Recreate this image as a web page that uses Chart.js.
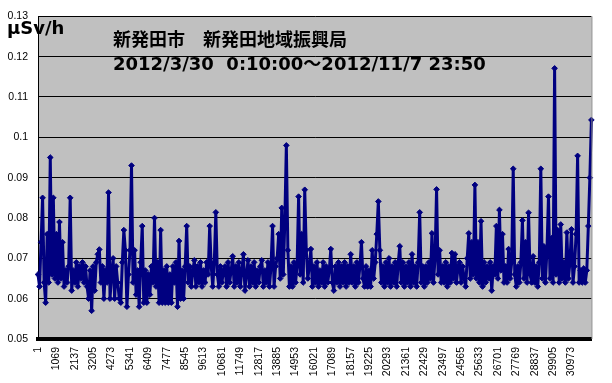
<!DOCTYPE html>
<html>
<head>
<meta charset="utf-8">
<script src="https://cdn.jsdelivr.net/npm/chart.js@4.4.1/dist/chart.umd.min.js"></script>
<style>
  html, body { margin: 0; padding: 0; background: #fff; }
  #wrap { width: 612px; height: 383px; }
</style>
</head>
<body>
<div id="wrap"><canvas id="grafico" width="612" height="383"></canvas></div>
<script>
// 測定番号の目盛り (1068 件ごと)
const tickLabels = ["1", "1069", "2137", "3205", "4273", "5341", "6409", "7477", "8545", "9613",
  "10681", "11749", "12817", "13885", "14953", "16021", "17089", "18157", "19225", "20293",
  "21361", "22429", "23497", "24565", "25633", "26701", "27769", "28837", "29905", "30973"];

// 空間線量率 (μSv/h), 89 件ごとに読み取り
const doseRate = [
  0.066, 0.063, 0.074, 0.085, 0.064, 0.059, 0.076, 0.064, 0.095, 0.066, 0.085, 0.065,
  0.076, 0.064, 0.079, 0.065, 0.074, 0.063, 0.067, 0.064, 0.068, 0.085, 0.062, 0.067,
  0.064, 0.069, 0.063, 0.068, 0.065, 0.069, 0.064, 0.068, 0.063, 0.060, 0.067, 0.057,
  0.068, 0.062, 0.069, 0.071, 0.0722, 0.064, 0.068, 0.060, 0.067, 0.064, 0.0863, 0.060,
  0.066, 0.070, 0.060, 0.068, 0.064, 0.060, 0.059, 0.069, 0.077, 0.072, 0.058, 0.066,
  0.072, 0.093, 0.064, 0.072, 0.061, 0.067, 0.058, 0.069, 0.078, 0.059, 0.067, 0.059,
  0.066, 0.061, 0.068, 0.064, 0.080, 0.063, 0.069, 0.059, 0.077, 0.059, 0.067, 0.059,
  0.068, 0.059, 0.066, 0.059, 0.068, 0.064, 0.069, 0.058, 0.0743, 0.060, 0.067, 0.060,
  0.068, 0.078, 0.064, 0.068, 0.063, 0.067, 0.0695, 0.063, 0.068, 0.064, 0.069, 0.063,
  0.067, 0.064, 0.069, 0.066, 0.078, 0.068, 0.063, 0.069, 0.0814, 0.066, 0.063, 0.068,
  0.064, 0.067, 0.068, 0.063, 0.069, 0.064, 0.067, 0.0705, 0.063, 0.068, 0.064, 0.069,
  0.063, 0.067, 0.071, 0.062, 0.066, 0.0695, 0.063, 0.068, 0.064, 0.069, 0.063, 0.067,
  0.064, 0.068, 0.0695, 0.063, 0.067, 0.064, 0.069, 0.063, 0.068, 0.078, 0.063, 0.068,
  0.070, 0.076, 0.065, 0.0825, 0.066, 0.079, 0.098, 0.072, 0.063, 0.068, 0.063, 0.069,
  0.064, 0.068, 0.0853, 0.066, 0.076, 0.064, 0.087, 0.072, 0.065, 0.068, 0.0723, 0.063,
  0.068, 0.064, 0.069, 0.063, 0.067, 0.064, 0.069, 0.063, 0.068, 0.064, 0.067, 0.0723,
  0.064, 0.062, 0.068, 0.064, 0.069, 0.063, 0.068, 0.064, 0.069, 0.063, 0.068, 0.064,
  0.071, 0.064, 0.068, 0.063, 0.069, 0.064, 0.068, 0.074, 0.065, 0.063, 0.068, 0.063,
  0.067, 0.063, 0.072, 0.065, 0.069, 0.076, 0.0841, 0.072, 0.064, 0.068, 0.063, 0.069,
  0.064, 0.070, 0.063, 0.068, 0.064, 0.069, 0.063, 0.069, 0.073, 0.064, 0.069, 0.063,
  0.068, 0.064, 0.069, 0.063, 0.071, 0.064, 0.068, 0.063, 0.069, 0.0814, 0.064, 0.068,
  0.063, 0.068, 0.064, 0.069, 0.065, 0.0762, 0.064, 0.070, 0.0871, 0.066, 0.072, 0.064,
  0.068, 0.064, 0.069, 0.063, 0.068, 0.064, 0.0713, 0.065, 0.071, 0.064, 0.068, 0.069,
  0.064, 0.068, 0.065, 0.063, 0.070, 0.0762, 0.065, 0.074, 0.066, 0.0882, 0.065, 0.074,
  0.064, 0.0792, 0.063, 0.069, 0.064, 0.068, 0.065, 0.069, 0.062, 0.068, 0.066, 0.078,
  0.065, 0.082, 0.067, 0.076, 0.064, 0.068, 0.064, 0.0723, 0.065, 0.069, 0.0922, 0.066,
  0.063, 0.068, 0.064, 0.069, 0.0794, 0.065, 0.074, 0.064, 0.0813, 0.066, 0.064, 0.0705,
  0.064, 0.068, 0.063, 0.069, 0.0922, 0.065, 0.073, 0.064, 0.072, 0.0853, 0.065, 0.075,
  0.064, 0.1171, 0.066, 0.077, 0.064, 0.0784, 0.065, 0.069, 0.064, 0.0764, 0.065, 0.069,
  0.0772, 0.064, 0.068, 0.076, 0.0954, 0.064, 0.067, 0.064, 0.0675, 0.064, 0.067, 0.078,
  0.090, 0.1043
];

const titulo1 = "新発田市　新発田地域振興局";
const titulo2 = "2012/3/30  0:10:00～2012/11/7 23:50";
const unidade = "μSv/h";

// 測定番号 (読み取り間隔 89 件)
const passo = 89;
const numeros = doseRate.map((_, i) => String(1 + i * passo));

const fundoPlot = {
  id: "fundoPlot",
  beforeDraw(chart) {
    const { ctx, chartArea: a } = chart;
    ctx.save();
    ctx.fillStyle = "#c0c0c0";
    ctx.fillRect(a.left, a.top, a.right - a.left, a.bottom - a.top);
    ctx.restore();
  },
  afterDraw(chart) {
    const { ctx, chartArea: a } = chart;
    ctx.save();
    ctx.strokeStyle = "#808080";
    ctx.lineWidth = 1;
    ctx.beginPath();
    ctx.moveTo(a.right + 0.5, a.top);
    ctx.lineTo(a.right + 0.5, a.bottom);
    ctx.stroke();

    ctx.fillStyle = "#000";
    ctx.textBaseline = "alphabetic";
    ctx.font = 'bold 18px "Noto Sans CJK JP"';
    ctx.fillText(titulo1, 113, 46);
    ctx.font = 'bold 18px "DejaVu Sans", "Noto Sans CJK JP"';
    ctx.fillText(titulo2, 113, 70);
    ctx.font = 'bold 18px "DejaVu Sans"';
    ctx.fillText(unidade, 7, 34);
    ctx.restore();
  }
};

const ctx = document.getElementById("grafico").getContext("2d");

new Chart(ctx, {
  type: "line",
  data: {
    labels: numeros,
    datasets: [{
      data: doseRate,
      borderColor: "#000080",
      backgroundColor: "#000080",
      borderWidth: 3,
      borderJoinStyle: "round",
      pointStyle: "rectRot",
      pointRadius: 2.8,
      pointBorderWidth: 1,
      pointBackgroundColor: "#000080",
      pointBorderColor: "#000080",
      tension: 0
    }]
  },
  options: {
    responsive: false,
    animation: false,
    layout: { padding: { top: 12, right: 5, left: 0, bottom: 0 } },
    plugins: {
      legend: { display: false },
      tooltip: { enabled: false }
    },
    scales: {
      x: {
        grid: { display: false, drawTicks: false },
        border: { color: "#000", width: 4 },
        ticks: {
          autoSkip: false,
          maxRotation: 90,
          minRotation: 90,
          padding: 8,
          color: "#000",
          font: { family: "Liberation Sans", size: 10.5 },
          callback: (v, i) => tickLabels.includes(numeros[i]) ? numeros[i] : ""
        },
        afterFit: s => { s.height = 44; }
      },
      y: {
        min: 0.05,
        max: 0.13,
        grid: { color: "#000", drawTicks: false },
        border: { color: "#000", width: 1 },
        ticks: {
          stepSize: 0.01,
          padding: 10,
          color: "#000",
          font: { family: "Liberation Sans", size: 10.5 },
          callback: v => String(+v.toFixed(2))
        },
        afterFit: s => { s.width = 38; }
      }
    }
  },
  plugins: [fundoPlot]
});
</script>
</body>
</html>
